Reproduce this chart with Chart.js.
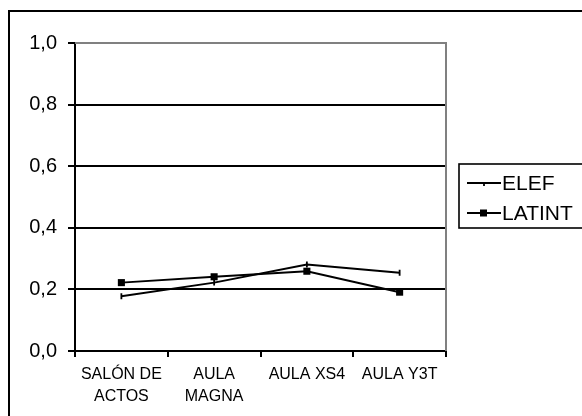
<!DOCTYPE html>
<html>
<head>
<meta charset="utf-8">
<script src="https://cdn.jsdelivr.net/npm/chart.js@4/dist/chart.umd.min.js"></script>
<style>
  html, body { margin: 0; padding: 0; background: #fff; }
  canvas { display: block; }
</style>
</head>
<body>
<canvas id="c" width="582" height="416"></canvas>
<script>
// Rooms measured
const categories = [["SALÓN DE", "ACTOS"], ["AULA", "MAGNA"], "AULA XS4", "AULA Y3T"];
// Series
const elefValues = [0.178, 0.222, 0.281, 0.254];
const latintValues = [0.222, 0.241, 0.259, 0.191];
const seriesNames = ["ELEF", "LATINT"];
// Y axis ticks
const yTicks = [0, 0.2, 0.4, 0.6, 0.8, 1.0];

const FONT = "'Liberation Sans', Arial, sans-serif";

// Outer frame, plot-area edges and the boxed legend
const framePlugin = {
  id: 'frame',
  beforeDatasetsDraw(chart) {
    const { ctx, chartArea: a } = chart;
    ctx.save();
    ctx.strokeStyle = '#808080';
    ctx.lineWidth = 2;
    ctx.beginPath();
    ctx.moveTo(a.left, a.top);
    ctx.lineTo(a.right, a.top);
    ctx.lineTo(a.right, a.bottom);
    ctx.stroke();
    ctx.restore();
  },
  afterDraw(chart) {
    const { ctx } = chart;
    ctx.save();
    // outer border
    ctx.strokeStyle = '#000';
    ctx.lineWidth = 2;
    ctx.strokeRect(9, 11, 800, 800);

    // legend box
    const lx = 459, ly = 164, lh = 64;
    ctx.lineWidth = 1.6;
    ctx.strokeRect(lx, ly, 400, lh);
    ctx.font = '21px ' + FONT;
    ctx.textBaseline = 'middle';
    ctx.fillStyle = '#000';
    chart.data.datasets.forEach((ds, i) => {
      const y = ly + 19 + i * 30;
      ctx.strokeStyle = '#000';
      ctx.lineWidth = 1.8;
      ctx.beginPath();
      ctx.moveTo(467, y);
      ctx.lineTo(501, y);
      ctx.stroke();
      if (ds.pointStyle === 'rect') {
        ctx.fillRect(480, y - 3.5, 7, 7);
      } else {
        ctx.beginPath();
        ctx.moveTo(484, y);
        ctx.lineTo(484, y + 3);
        ctx.stroke();
      }
      ctx.fillText(ds.label, 502, y + 1);
    });
    ctx.restore();
  }
};

new Chart(document.getElementById('c'), {
  type: 'line',
  data: {
    labels: categories,
    datasets: [
      {
        label: seriesNames[0],
        data: elefValues,
        borderColor: '#000',
        backgroundColor: '#000',
        borderWidth: 2,
        pointStyle: 'line',
        rotation: 90,
        pointRadius: 3,
        pointBorderWidth: 1.8,
        tension: 0
      },
      {
        label: seriesNames[1],
        data: latintValues,
        borderColor: '#000',
        backgroundColor: '#000',
        borderWidth: 2,
        pointStyle: 'rect',
        pointRadius: 5,
        pointBorderWidth: 0,
        tension: 0
      }
    ]
  },
  options: {
    responsive: false,
    animation: false,
    layout: { padding: { left: 0, top: 43, right: 136, bottom: 0 } },
    plugins: { legend: { display: false }, tooltip: { enabled: false } },
    scales: {
      x: {
        offset: true,
        grid: {
          offset: true,
          drawOnChartArea: false,
          tickLength: 6,
          color: '#000',
          lineWidth: 2
        },
        border: { color: '#000', width: 2 },
        ticks: {
          color: '#000',
          font: { family: FONT, size: 16, lineHeight: 1.4 },
          padding: 6,
          maxRotation: 0,
          autoSkip: false
        },
        afterFit(s) { s.height = 65; }
      },
      y: {
        min: 0,
        max: 1,
        afterBuildTicks(s) { s.ticks = yTicks.map(v => ({ value: v })); },
        grid: {
          color: c => (c.tick && c.tick.value === 1 ? '#808080' : '#000'),
          tickColor: '#000',
          lineWidth: 2,
          tickLength: 7
        },
        border: { color: '#000', width: 2 },
        ticks: {
          color: '#000',
          font: { family: FONT, size: 20 },
          padding: 11,
          callback: v => v.toFixed(1).replace('.', ',')
        },
        afterFit(s) { s.width = 75; }
      }
    }
  },
  plugins: [framePlugin]
});
</script>
</body>
</html>
